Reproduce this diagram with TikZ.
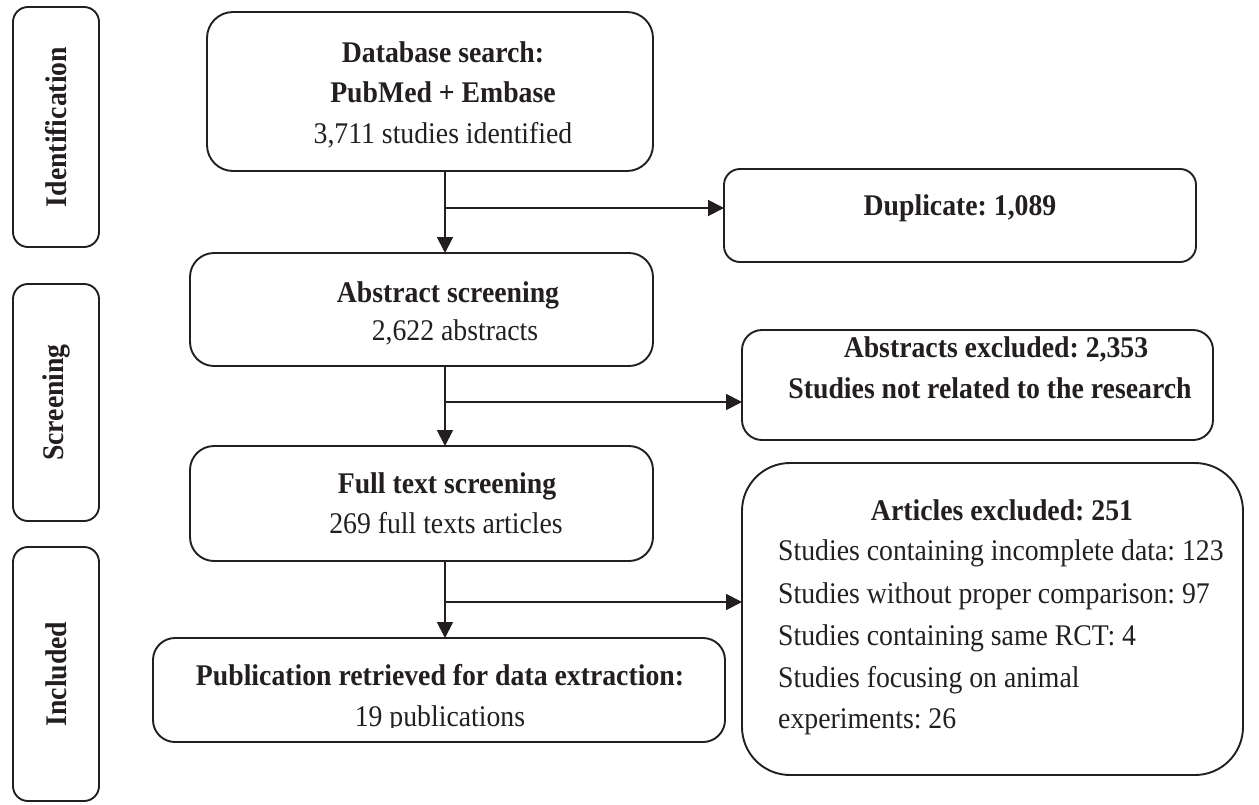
\documentclass[tikz,border=0pt]{standalone}
\usepackage{fontspec}
\setmainfont{Liberation Serif}[FakeStretch=0.925]
\usetikzlibrary{arrows.meta}
\definecolor{ink}{HTML}{231F20}
\tikzset{
  box/.style={draw=ink, line width=1.9pt, inner sep=0pt, outer sep=0pt},
  lab/.style={box, rounded corners=15pt, minimum width=86pt},
  txt/.style={text=ink, anchor=base, inner sep=0pt, font=\fontsize{30}{40}\selectfont},
  btxt/.style={txt, font=\fontsize{30}{40}\selectfont\bfseries},
  ltxt/.style={txt, anchor=base west},
  arr/.style={draw=ink, line width=1.9pt, -{Triangle[length=16pt,width=16pt]}}
}
\frenchspacing
\begin{document}
\begin{tikzpicture}[x=1pt,y=-1pt]
\useasboundingbox (0,0) rectangle (1259,804);
% stage labels
\node[lab, minimum height=240pt] (lid) at (56,127) {};
\node[btxt, rotate=90, anchor=center] (tid) at (56,127) {Identification};
\node[lab, minimum height=237pt] (lscr) at (56,402.5) {};
\node[btxt, rotate=90, anchor=center] (tscr) at (56,402.5) {Screening};
\node[lab, minimum height=254pt] (linc) at (56,674) {};
\node[btxt, rotate=90, anchor=center] (tinc) at (56,674) {Included};
% main boxes
\node[box, rounded corners=26pt, minimum width=446pt, minimum height=159pt] (db) at (430,91.5) {};
\node[btxt] (db1) at (443,62) {Database search:};
\node[btxt] (db2) at (443,102) {PubMed + Embase};
\node[txt] (db3) at (443,143) {3,711 studies identified};

\node[box, rounded corners=16pt, minimum width=472pt, minimum height=93pt] (dup) at (960,215.5) {};
\node[btxt] (dup1) at (960,215) {Duplicate: 1,089};

\node[box, rounded corners=24pt, minimum width=463pt, minimum height=113pt] (abs) at (421.5,309.5) {};
\node[btxt] (abs1) at (448,302) {Abstract screening};
\node[txt] (abs2) at (455,340) {2,622 abstracts};

\node[box, rounded corners=20pt, minimum width=471pt, minimum height=110pt] (absx) at (977.5,385) {};
\node[btxt] (absx1) at (996,357) {Abstracts excluded: 2,353};
\node[btxt] (absx2) at (990,398) {Studies not related to the research};

\node[box, rounded corners=24pt, minimum width=463pt, minimum height=115pt] (ft) at (421.5,503.5) {};
\node[btxt] (ft1) at (447,493) {Full text screening};
\node[txt] (ft2) at (446,533) {269 full texts articles};

\node[box, rounded corners=48pt, minimum width=501pt, minimum height=312pt] (artx) at (992.5,619) {};
\node[btxt] (artx1) at (1002,520) {Articles excluded: 251};
\node[ltxt] (artx2) at (778,560) {Studies containing incomplete data: 123};
\node[ltxt] (artx3) at (778,603) {Studies without proper comparison: 97};
\node[ltxt] (artx4) at (778,645) {Studies containing same RCT: 4};
\node[ltxt] (artx5) at (778,687) {Studies focusing on animal};
\node[ltxt] (artx6) at (778,728) {experiments: 26};

\node[box, rounded corners=22pt, minimum width=572pt, minimum height=104pt] (pub) at (439,690) {};
\node[btxt] (pub1) at (440,685) {Publication retrieved for data extraction:};
\begin{scope}
\clip (150,600) rectangle (730,727);
\node[txt] (pub2) at (440,726) {19 publications};
\end{scope}
% connectors
\coordinate (j1) at (445,208);
\coordinate (j2) at (445,402);
\coordinate (j3) at (445,602);
\draw[arr] (j1 |- db.south) -- (j1 |- abs.north);
\draw[arr] (j1) -- (j1 -| dup.west);
\draw[arr] (j2 |- abs.south) -- (j2 |- ft.north);
\draw[arr] (j2) -- (j2 -| absx.west);
\draw[arr] (j3 |- ft.south) -- (j3 |- pub.north);
\draw[arr] (j3) -- (j3 -| artx.west);
\end{tikzpicture}
\end{document}
